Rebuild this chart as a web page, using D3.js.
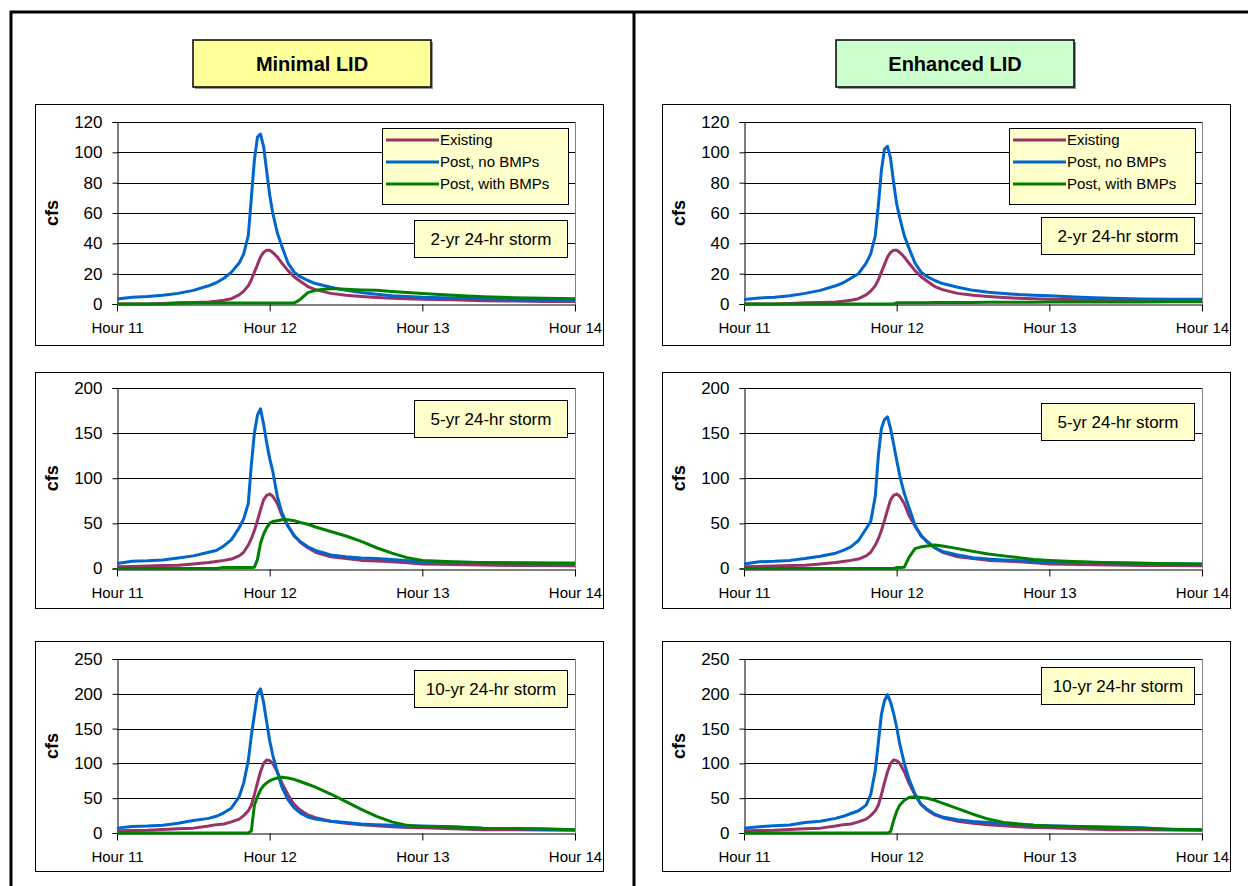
<!DOCTYPE html>
<html><head><meta charset="utf-8">
<script src="https://cdn.jsdelivr.net/npm/d3@7"></script>
<style>
body{margin:0;background:#fff}
svg{display:block}
text{font-family:Arial,"Liberation Sans",sans-serif;fill:#000}
</style>
</head><body>
<svg id="c" width="1248" height="886"></svg>
<script>
// ---- data ----
const hours = [11.0, 11.1, 11.2, 11.3, 11.4, 11.5, 11.6, 11.65, 11.7, 11.75, 11.8, 11.83, 11.86, 11.88, 11.9, 11.92, 11.94, 11.96, 11.98, 12.0, 12.02, 12.05, 12.08, 12.12, 12.16, 12.2, 12.25, 12.3, 12.4, 12.5, 12.6, 12.7, 12.8, 12.9, 13.0, 13.2, 13.4, 13.6, 13.8, 14.0];
const xTickValues = [11, 12, 13, 14];
const xTickLabels = ["Hour 11", "Hour 12", "Hour 13", "Hour 14"];
const seriesNames = ["Existing", "Post, no BMPs", "Post, with BMPs"];
const columnTitles = ["Minimal LID", "Enhanced LID"];
const stormLabels = ["2-yr 24-hr storm", "5-yr 24-hr storm", "10-yr 24-hr storm"];
const yMaxes = [120, 200, 250];
const ySteps = [20, 50, 50];

// Existing conditions (same in both columns)
const existing2yr = [0, 0, 0, 0.3, 0.8, 1, 1.3, 1.8, 2.5, 3.5, 6, 8.5, 12, 16, 21, 26, 31, 34, 35.5, 35.5, 34, 31, 27, 22, 18, 15, 11.5, 9.5, 7, 5.8, 5, 4.3, 3.8, 3.4, 3.2, 2.8, 2.2, 1.9, 1.7, 1.6];
const existing5yr = [2, 2.3, 2.8, 3.2, 3.7, 5, 6.6, 7.8, 9, 10.5, 14, 18, 26, 33, 42, 53, 65, 76, 81, 82.5, 80, 72, 59, 47, 37, 29, 23, 18, 13, 11, 9, 8.3, 7.5, 6.5, 5, 4.3, 3.8, 3.4, 3.2, 3];
const existing10yr = [3.3, 3.5, 4, 5, 6, 7, 10, 12, 13, 16, 20, 25, 32, 40, 55, 72, 88, 100, 105, 104, 100, 88, 72, 55, 41, 33, 26, 22, 17, 14, 12, 10.5, 9, 8, 7.5, 6, 4.7, 4.5, 4.2, 4];

// Minimal LID
const minimalPost2yr = [3.3, 4.5, 5, 5.8, 7, 9, 12, 14, 17, 21, 27, 33, 45, 70, 95, 110, 112, 104, 88, 72, 60, 47, 38, 27, 21, 18, 15.5, 13.5, 11, 9, 7.5, 6.5, 5.5, 5, 4.5, 4, 3.5, 3, 2.8, 2.7];
const minimalBmp2yr = [0, 0, 0, 0, 0.5, 0.6, 0.6, 0.6, 0.6, 0.6, 0.6, 0.6, 0.6, 0.6, 0.6, 0.6, 0.6, 0.6, 0.6, 0.6, 0.6, 0.6, 0.6, 0.6, 0.6, 3, 7.5, 9, 10.2, 9.8, 9.3, 9, 8.3, 7.6, 7, 5.8, 4.8, 4.2, 3.8, 3.5];
const minimalPost5yr = [5.5, 8, 8.5, 9.5, 11.7, 14, 18, 20, 25, 32, 45, 55, 72, 115, 150, 170, 177, 160, 140, 122, 108, 80, 62, 47, 36, 30, 24, 20, 15, 13, 11.7, 11, 10, 8.5, 7.3, 7, 6.6, 6.3, 6, 6];
const minimalBmp5yr = [0, 0, 0, 0, 0, 0, 0, 0, 1, 1, 1, 1, 1, 1, 1.5, 10, 28, 38, 45, 50, 52, 53, 54, 54, 53, 51, 49, 46, 41, 36, 30, 23, 17, 12, 9, 7.5, 6.5, 6, 5.7, 5.5];
const minimalPost10yr = [7, 9.5, 10, 11, 14, 18, 21, 24, 29, 36, 52, 72, 104, 140, 170, 200, 207, 188, 160, 133, 112, 88, 66, 48, 36, 29, 23, 20, 17, 15, 13, 12, 11, 10, 10, 9, 7, 6.5, 5, 4.5];
const minimalBmp10yr = [0, 0, 0, 0, 0, 0, 0, 0, 0, 0, 0, 0, 0, 3, 40, 52, 62, 68, 72, 75, 77, 79, 80, 79, 77, 74, 70, 66, 56, 45, 34, 24, 16, 11, 9.5, 8.5, 7, 6.5, 6, 4.7];

// Enhanced LID
const enhancedPost2yr = [3, 4, 4.5, 5.5, 7, 9, 12, 14, 17, 20, 27, 33, 45, 65, 88, 102, 104, 96, 80, 66, 57, 45, 37, 27, 21, 18, 15.5, 13.5, 11, 9, 7.8, 7, 6.2, 5.8, 5.5, 4.5, 3.8, 3.3, 3.2, 3.2];
const enhancedBmp2yr = [0, 0, 0, 0, 0, 0, 0, 0, 0, 0, 0, 0, 0, 0, 0, 0, 0, 0, 0, 0.8, 0.8, 0.8, 0.9, 0.9, 0.9, 0.9, 1, 1, 1, 1, 1.1, 1.1, 1.2, 1.2, 1.3, 1.3, 1.4, 1.4, 1.5, 1.5];
const enhancedPost5yr = [5, 7.5, 8, 9, 11, 13.5, 17, 20, 24, 31, 44, 52, 80, 125, 155, 165, 168, 155, 138, 120, 103, 83, 68, 48, 36, 30, 23, 19, 15, 12, 10.5, 9.5, 8.7, 8, 7.3, 6.8, 6.3, 5.8, 5.4, 5];
const enhancedBmp5yr = [0, 0, 0, 0, 0, 0, 0, 0, 0, 0, 0, 0, 0, 0, 0, 0, 0, 0, 0, 1, 1, 1.5, 12, 22, 24, 25, 26, 25, 22, 19, 16, 14, 12, 10, 9, 7.5, 6.5, 5.8, 5.3, 5];
const enhancedPost10yr = [7, 9, 10.4, 11.5, 15, 17, 21, 24, 28, 32, 40, 55, 90, 130, 170, 190, 199, 188, 172, 152, 128, 100, 78, 56, 41, 34, 27, 23, 19, 16.5, 15, 13.5, 12, 11, 10.5, 9.5, 8.5, 7.5, 5, 4.7];
const enhancedBmp10yr = [0, 0, 0, 0, 0, 0, 0, 0, 0, 0, 0, 0, 0, 0, 0, 0, 0, 2, 18, 31, 40, 47, 51, 52, 51, 50, 47, 43, 35, 27, 20, 15, 13, 11, 10, 9, 8, 7, 5.5, 4.7];

// ---- layout / style ----
const colors = ["#993366", "#0066CC", "#008000"];
const colFrameX = [35, 662];
const titleBoxX = [193, 836];
const titleFills = ["#FFFF99", "#CCFFCC"];
const rowFrames = [
  {y: 104, h: 241, top: 122, bottom: 304, boxY: [116, 113]},
  {y: 372, h: 236, top: 388, bottom: 568.5, boxY: [28, 31]},
  {y: 641, h: 230, top: 659, bottom: 833, boxY: [29, 26]}
];
const frameW = 568, plotL = 82, plotW = 458;

const panelSeries = [
  [[existing2yr, minimalPost2yr, minimalBmp2yr], [existing2yr, enhancedPost2yr, enhancedBmp2yr]],
  [[existing5yr, minimalPost5yr, minimalBmp5yr], [existing5yr, enhancedPost5yr, enhancedBmp5yr]],
  [[existing10yr, minimalPost10yr, minimalBmp10yr], [existing10yr, enhancedPost10yr, enhancedBmp10yr]]
];

const svg = d3.select("#c");

// outer borders
svg.append("line").attr("x1", 10).attr("x2", 1248).attr("y1", 12).attr("y2", 12).attr("stroke", "#000").attr("stroke-width", 3);
svg.append("line").attr("x1", 11).attr("x2", 11).attr("y1", 11).attr("y2", 886).attr("stroke", "#000").attr("stroke-width", 3);
svg.append("line").attr("x1", 634).attr("x2", 634).attr("y1", 11).attr("y2", 886).attr("stroke", "#000").attr("stroke-width", 3);

// column titles
columnTitles.forEach((t, i) => {
  const g = svg.append("g");
  g.append("rect").attr("x", titleBoxX[i] + 2).attr("y", 42).attr("width", 238).attr("height", 47).attr("fill", "#999");
  g.append("rect").attr("x", titleBoxX[i]).attr("y", 40).attr("width", 238).attr("height", 47)
    .attr("fill", titleFills[i]).attr("stroke", "#000").attr("stroke-width", 1.5);
  g.append("text").attr("x", titleBoxX[i] + 119).attr("y", 64).attr("dy", "0.35em")
    .attr("text-anchor", "middle").attr("font-size", 20).attr("font-weight", "bold").text(t);
});

const x = (col) => d3.scaleLinear().domain([11, 14]).range([colFrameX[col] + plotL, colFrameX[col] + plotL + plotW]);

rowFrames.forEach((rf, r) => {
  [0, 1].forEach(c => {
    const fx = colFrameX[c];
    const xs = x(c);
    const ys = d3.scaleLinear().domain([0, yMaxes[r]]).range([rf.bottom, rf.top]);
    const g = svg.append("g");
    // frame
    g.append("rect").attr("x", fx + 0.5).attr("y", rf.y + 0.5).attr("width", frameW).attr("height", rf.h)
      .attr("fill", "#fff").attr("stroke", "#000").attr("stroke-width", 1);
    const L = xs.range()[0], R = xs.range()[1];
    const yTicks = d3.range(0, yMaxes[r] + 0.001, ySteps[r]);
    // gridlines
    g.selectAll(".grid").data(yTicks.filter(v => v > 0)).join("line")
      .attr("x1", L).attr("x2", R)
      .attr("y1", d => Math.round(ys(d)) + 0.5).attr("y2", d => Math.round(ys(d)) + 0.5)
      .attr("stroke", "#000").attr("stroke-width", 1);
    // right border of plot
    g.append("line").attr("x1", Math.round(R) + 0.5).attr("x2", Math.round(R) + 0.5)
      .attr("y1", ys(yMaxes[r])).attr("y2", ys(0)).attr("stroke", "#808080").attr("stroke-width", 1);
    // y axis
    const yAxis = d3.axisLeft(ys).tickValues(yTicks).tickSize(5).tickPadding(10).tickFormat(d3.format("d"));
    const ya = g.append("g").attr("transform", `translate(${Math.round(L) + 0.5},0)`).call(yAxis);
    ya.select(".domain").attr("stroke", "#000");
    ya.selectAll("text").attr("font-size", 17).attr("font-family", "Arial, 'Liberation Sans', sans-serif");
    // x axis
    const xAxis = d3.axisBottom(xs).tickValues(xTickValues).tickSize(7).tickSizeOuter(0).tickPadding(11)
      .tickFormat((d, i) => xTickLabels[i]);
    const xa = g.append("g").attr("transform", `translate(0,${Math.round(ys(0)) + 0.5})`).call(xAxis);
    xa.selectAll("text").attr("font-size", 15).attr("font-family", "Arial, 'Liberation Sans', sans-serif");
    // cfs label
    g.append("text").attr("transform", `translate(${fx + 17},${(rf.top + rf.bottom) / 2}) rotate(-90)`)
      .attr("text-anchor", "middle").attr("dy", "0.35em").attr("font-size", 18).attr("font-weight", "bold").text("cfs");
    // lines
    const line = d3.line().x((d, i) => xs(hours[i])).y(d => ys(d));
    panelSeries[r][c].forEach((vals, k) => {
      g.append("path").datum(vals).attr("d", line).attr("fill", "none")
        .attr("stroke", colors[k]).attr("stroke-width", 3).attr("stroke-linejoin", "round");
    });
    // storm label box
    const bx = fx + 379, by = rf.y + rf.boxY[c];
    g.append("rect").attr("x", bx + 0.5).attr("y", by + 0.5).attr("width", 153).attr("height", 37)
      .attr("fill", "#FFFFCC").attr("stroke", "#000").attr("stroke-width", 1);
    g.append("text").attr("x", bx + 77).attr("y", by + 19).attr("dy", "0.35em").attr("text-anchor", "middle")
      .attr("font-size", 17).text(stormLabels[r]);
    // legend
    if (r === 0) {
      const lx = fx + 347, ly = rf.y + 24;
      g.append("rect").attr("x", lx + 0.5).attr("y", ly + 0.5).attr("width", 186).attr("height", 76)
        .attr("fill", "#FFFFCC").attr("stroke", "#000").attr("stroke-width", 1);
      seriesNames.forEach((n, k) => {
        const yy = ly + 12 + k * 22;
        g.append("line").attr("x1", lx + 4).attr("x2", lx + 57).attr("y1", yy).attr("y2", yy)
          .attr("stroke", colors[k]).attr("stroke-width", 3);
        g.append("text").attr("x", lx + 58).attr("y", yy).attr("dy", "0.35em").attr("font-size", 15).text(n);
      });
    }
  });
});
</script>
</body></html>
